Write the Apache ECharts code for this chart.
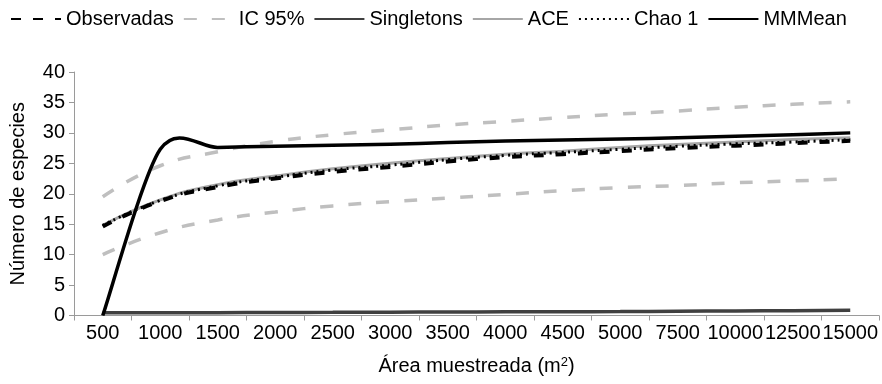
<!DOCTYPE html>
<html>
<head>
<meta charset="utf-8">
<script src="https://cdn.jsdelivr.net/npm/echarts@6/dist/echarts.min.js"></script>
<style>html,body{margin:0;padding:0;background:#fff}#c{width:882px;height:384px}</style>
</head>
<body>
<div id="c"></div>
<script>
const categories = ['500','1000','1500','2000','2500','3000','3500','4000','4500','5000','7500','10000','12500','15000'];
const observadas = [14.6, 18.8, 21.1, 22.5, 23.6, 24.4, 25.3, 26.0, 26.5, 27.0, 27.5, 27.9, 28.3, 28.7];
const icUpper = [19.5, 24.6, 26.9, 28.6, 29.7, 30.5, 31.3, 31.9, 32.5, 33.1, 33.6, 34.2, 34.7, 35.1];
const icLower = [10.0, 13.6, 15.7, 17.0, 18.0, 18.7, 19.3, 19.9, 20.5, 21.0, 21.35, 21.8, 22.1, 22.45];
const singletons = [0.45, 0.45, 0.47, 0.5, 0.52, 0.55, 0.57, 0.6, 0.62, 0.65, 0.7, 0.75, 0.8, 0.85];
const ace = [14.8, 19.0, 21.5, 22.9, 24.1, 25.0, 25.8, 26.5, 27.0, 27.6, 28.1, 28.5, 28.9, 29.2];
const chao1 = [14.8, 18.9, 21.3, 22.7, 23.9, 24.7, 25.6, 26.3, 26.8, 27.3, 27.8, 28.2, 28.5, 28.9];
const mmmean = [0, 27.3, 27.6, 27.8, 27.95, 28.15, 28.4, 28.65, 28.85, 29.0, 29.2, 29.45, 29.7, 30.0];
const yTicks = {min: 0, max: 40, interval: 5};

const FONT = 'Liberation Sans, Arial, sans-serif';
const chart = echarts.init(document.getElementById('c'), null, {renderer: 'canvas'});

function line(name, data, color, width, type, z) {
  return {
    name, type: 'line', data, smooth: true, symbol: 'none', showSymbol: false, z,
    lineStyle: {color, width, type},
    itemStyle: {color},
    emphasis: {disabled: true}
  };
}

// Excel-style (Catmull-Rom) smoothed curve through the data points, positioned via api.coord
function smoothCurveItem(values, color, width) {
  const k = 6.8;
  return function (params, api) {
    if (params.dataIndex !== 0) return null;
    const pts = values.map((v, i) => api.coord([i, v]));
    const n = pts.length;
    let d = 'M' + pts[0][0] + ',' + pts[0][1];
    for (let i = 0; i < n - 1; i++) {
      const p0 = pts[Math.max(i - 1, 0)], p1 = pts[i], p2 = pts[i + 1], p3 = pts[Math.min(i + 2, n - 1)];
      const c1x = p1[0] + (p2[0] - p0[0]) / k, c1y = p1[1] + (p2[1] - p0[1]) / k;
      const c2x = p2[0] - (p3[0] - p1[0]) / k, c2y = p2[1] - (p3[1] - p1[1]) / k;
      d += ' C' + c1x + ',' + c1y + ' ' + c2x + ',' + c2y + ' ' + p2[0] + ',' + p2[1];
    }
    return {
      type: 'path',
      shape: {pathData: d},
      style: {stroke: color, lineWidth: width, fill: null, lineJoin: 'round'}
    };
  };
}

chart.setOption({
  animation: false,
  textStyle: {fontFamily: FONT},
  legend: {
    data: ['Observadas', 'IC 95%', 'Singletons', 'ACE', 'Chao 1', 'MMMean'],
    left: 5, top: 4, itemWidth: 50, itemHeight: 14, itemGap: 9,
    itemStyle: {opacity: 0},
    textStyle: {fontSize: 20, color: '#000', fontFamily: FONT},
    selectedMode: false
  },
  grid: {left: 72, right: 3, top: 72, bottom: 68.5},
  xAxis: {
    type: 'category', data: categories, boundaryGap: true,
    axisLine: {lineStyle: {color: '#9a9a9a', width: 1}},
    axisTick: {show: true, length: 5, lineStyle: {color: '#9a9a9a'}},
    axisLabel: {interval: 0, fontSize: 20, color: '#000', margin: 8, fontFamily: FONT},
    name: 'Área muestreada (m{sup|2})', nameLocation: 'middle', nameGap: 40,
    nameTextStyle: {fontSize: 20, color: '#000', fontFamily: FONT,
      rich: {sup: {fontSize: 13, color: '#000', padding: [0, 0, 9, 0], fontFamily: FONT}}}
  },
  yAxis: {
    type: 'value', min: yTicks.min, max: yTicks.max, interval: yTicks.interval,
    splitLine: {show: false},
    axisLine: {show: true, lineStyle: {color: '#9a9a9a', width: 1}},
    axisTick: {show: true, length: 5, lineStyle: {color: '#9a9a9a'}},
    axisLabel: {fontSize: 20, color: '#000', margin: 9, fontFamily: FONT},
    name: 'Número de especies', nameLocation: 'middle', nameGap: 46,
    nameTextStyle: {fontSize: 20, color: '#000', fontFamily: FONT}
  },
  series: [
    line('IC 95%', icUpper, '#bfbfbf', 3.5, [13, 15], 1),
    line('IC 95%', icLower, '#bfbfbf', 3.5, [13, 15], 1),
    line('ACE', ace, '#a6a6a6', 3, 'solid', 2),
    line('Observadas', observadas, '#000000', 4, [10, 12], 3),
    line('Chao 1', chao1, '#000000', 3, [2, 4], 4),
    line('Singletons', singletons, '#404040', 3.5, 'solid', 5),
    line('MMMean', [], '#000000', 3.5, 'solid', 6),
    {
      name: 'MMMean curve', type: 'custom', coordinateSystem: 'cartesian2d',
      data: mmmean.map((v, i) => [i, v]), encode: {x: 0, y: 1},
      renderItem: smoothCurveItem(mmmean, '#000000', 3.5),
      z: 6, silent: true
    }
  ]
});
</script>
</body>
</html>
